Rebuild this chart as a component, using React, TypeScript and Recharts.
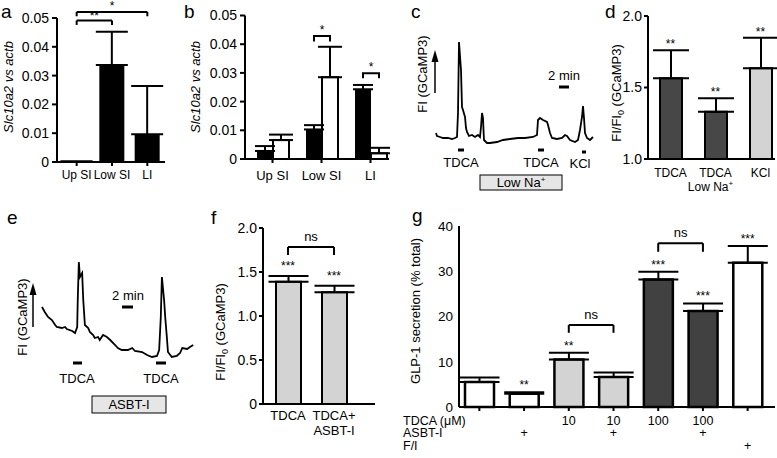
import React from 'react';
import {
  BarChart, Bar, Cell, XAxis, YAxis, ErrorBar, ReferenceLine, ReferenceDot, LineChart, Line,
} from 'recharts';

const FONT = '"Liberation Sans", Arial, Helvetica, sans-serif';

// a: Slc10a2 along the gut
const aRegions = ['Up SI', 'Low SI', 'LI'];
const aMean = [0.0002, 0.0337, 0.0096];
const aTop = [0.0002, 0.0452, 0.0264];
const aTicks = [0, 0.01, 0.02, 0.03, 0.04, 0.05];

// b: black vs white groups
const bRegions = ['Up SI', 'Low SI', 'LI'];
const bBlack = [0.0028, 0.0103, 0.0243];
const bBlackTop = [0.0045, 0.0118, 0.0258];
const bWhite = [0.0066, 0.0285, 0.002];
const bWhiteTop = [0.0085, 0.0391, 0.0039];
const bSig = ['', '*', '*'];
const bBracket = [0, 0.0429, 0.0299];
const bBracketTip = [0, 0.0409, 0.0281];

// c: GCaMP3 trace (minutes, a.u.)
const cTime = [0, 0.2, 0.8, 1.4, 2.4, 3.2, 3.8, 4.2, 4.4, 4.6, 5.0, 5.2, 5.4, 5.8, 6.0, 6.2, 6.6, 7.2, 7.8, 8.4, 8.8,
  9.0, 9.2, 9.4, 9.5, 9.6, 10.2, 10.8, 12.2, 13.4, 14.8, 16.4, 17.8, 19.4, 20.2, 20.4, 20.8, 21.4, 22.2, 22.4, 22.8,
  23.2, 24.2, 25.2, 25.8, 26.2, 26.8, 27.8, 28.4, 28.8, 29.2, 29.4, 29.6, 29.8, 30.2, 30.8, 31.4];
const cSignal = [17, 14, 13, 12, 12, 11, 12, 13, 37, 108, 80, 43, 40, 33, 22, 18, 14, 15, 13, 15, 13,
  23, 37, 32, 20, 10, 7, 7, 8, 10, 11, 12, 12, 13, 15, 30, 32, 30, 28, 25, 17,
  12, 11, 12, 15, 14, 10, 8, 10, 20, 33, 44, 32, 17, 12, 10, 13];

// d
const dConditions = ['TDCA', 'TDCA low Na', 'KCl'];
const dLines = [['TDCA'], ['TDCA', 'Low Na+'], ['KCl']];
const dMean = [1.564, 1.33, 1.634];
const dTop = [1.76, 1.424, 1.848];
const dSig = ['**', '**', '**'];
const dFill = ['#474747', '#474747', '#d3d3d3'];
const dTicks = [1, 1.5, 2];

// e: GCaMP3 trace with ASBT-I
const eTime = [0, 0.5, 1.1, 1.8, 2.4, 2.7, 3.6, 4.2, 4.5, 5.5, 6.0, 6.4, 6.5, 6.7, 6.9, 7.3, 7.5, 7.8, 8.4, 8.7,
  9.3, 9.6, 10.2, 10.5, 11.1, 11.8, 12.4, 13.3, 13.8, 14.5, 15.6, 16.4, 16.9, 18.2, 19.1, 20.0, 20.9, 21.3, 21.6,
  21.8, 22.2, 22.4, 22.7, 22.9, 23.6, 24.5, 25.1, 25.5, 26.4, 26.9, 27.5];
const eSignal = [63, 58, 53, 50, 45, 43, 42, 43, 41, 39, 37, 43, 70, 108, 93, 97, 70, 45, 42, 38,
  35, 32, 33, 30, 35, 33, 30, 25, 22, 20, 20, 22, 19, 18, 15, 13, 14, 20, 53,
  93, 70, 53, 33, 18, 13, 14, 17, 22, 21, 23, 25];

// f
const fConditions = ['TDCA', 'TDCA+ASBT-I'];
const fLines = [['TDCA'], ['TDCA+', 'ASBT-I']];
const fMean = [1.39, 1.27];
const fTop = [1.455, 1.345];
const fSig = ['***', '***'];
const fTicks = [0, 0.5, 1, 1.5, 2];

// g: GLP-1 secretion
const gGroups = ['g1', 'g2', 'g3', 'g4', 'g5', 'g6', 'g7'];
const gMean = [5.5, 2.95, 10.5, 6.65, 28.2, 21.2, 31.9];
const gTop = [6.5, 3.25, 12.0, 7.6, 29.9, 22.9, 35.6];
const gSig = ['', '**', '**', '', '***', '***', '***'];
const gTdca = ['', '', '10', '10', '100', '100', ''];
const gAsbt = ['', '+', '', '+', '', '+', ''];
const gFi = ['', '', '', '', '', '', '+'];
const gFill = ['#ffffff', '#ffffff', '#d3d3d3', '#d3d3d3', '#414141', '#414141', '#ffffff'];
const gTicks = [0, 10, 20, 30, 40];

const aData = aRegions.map((r, i) => ({ region: r, mean: aMean[i], err: [0, aTop[i] - aMean[i]] }));
const bData = bRegions.map((r, i) => ({
  region: r, black: bBlack[i], white: bWhite[i],
  blackErr: [0, bBlackTop[i] - bBlack[i]], whiteErr: [0, bWhiteTop[i] - bWhite[i]],
}));
const cData = cTime.map((t, i) => ({ t, f: cSignal[i] }));
const dData = dConditions.map((c, i) => ({ cond: c, mean: dMean[i], err: [0, dTop[i] - dMean[i]] }));
const eData = eTime.map((t, i) => ({ t, f: eSignal[i] }));
const fData = fConditions.map((c, i) => ({ cond: c, mean: fMean[i], err: [0, fTop[i] - fMean[i]] }));
const gData = gGroups.map((g, i) => ({ group: g, mean: gMean[i], err: [0, gTop[i] - gMean[i]] }));

const axisLine = { stroke: '#000', strokeWidth: 2 };
const tickLine = { stroke: '#000', strokeWidth: 2 };
const numTick = { fill: '#000', fontSize: 14 };

const fmt2 = (v: number) => (v === 0 ? '0' : v.toFixed(2));
const fmt1 = (v: number) => (v === 0 ? '0' : v.toFixed(1));

function plusText(s: string) {
  if (!s.endsWith('+') || s.length === 1) return s;
  return [s.slice(0, -1), <tspan key="p" dy={-5} fontSize={8}>+</tspan>];
}

function bracket(from: string, to: string, y: number, tip: number, text: string, fontSize: number, offset: number) {
  const common = { stroke: '#000', strokeWidth: 2, ifOverflow: 'visible' as const };
  return [
    <ReferenceLine key={`${from}-${to}-h`} segment={[{ x: from, y }, { x: to, y }]} {...common}
      label={{ value: text, position: 'top', offset, fontSize, fill: '#000' }} />,
    <ReferenceLine key={`${from}-${to}-l`} segment={[{ x: from, y }, { x: from, y: tip }]} {...common} />,
    <ReferenceLine key={`${from}-${to}-r`} segment={[{ x: to, y }, { x: to, y: tip }]} {...common} />,
  ];
}

function stars(cats: string[], tops: number[], sig: string[], offset: number) {
  return cats.map((c, i) => (sig[i] ? (
    <ReferenceDot key={`s-${c}`} x={c} y={tops[i]} r={0} fill="none" stroke="none" ifOverflow="visible"
      label={{ value: sig[i], position: 'top', offset, fontSize: 12, fill: '#000' }} />
  ) : null));
}

// white bars in b also carry the black-vs-white bracket
function bWhiteShape(props: any) {
  const { x, y, width, height, index } = props;
  const base = y + height;
  const py = (u: number) => base - (u * height) / bWhite[index];
  const l = x - width / 2;
  const r = x + width / 2;
  return (
    <g>
      <rect x={x} y={y} width={width} height={height} fill="#fff" stroke="#000" strokeWidth={2} />
      {bSig[index] && (
        <>
          <path d={`M${l},${py(bBracketTip[index])}V${py(bBracket[index])}H${r}V${py(bBracketTip[index])}`}
            fill="none" stroke="#000" strokeWidth={2} />
          <text x={(l + r) / 2} y={py(bBracket[index]) - 2} textAnchor="middle" fontSize={12}>{bSig[index]}</text>
        </>
      )}
    </g>
  );
}

const dTick = (p: any) => (
  <g>
    {dLines[p.index].map((s, k) => (
      <text key={k} x={p.x + (k ? -5 : 0)} y={p.y + 18 + k * 14} textAnchor="middle" fontSize={12} fill="#000">{plusText(s)}</text>
    ))}
  </g>
);

const fTick = (p: any) => (
  <g>
    {fLines[p.index].map((s, k) => (
      <text key={k} x={p.x} y={p.y + 16 + k * 15} textAnchor="middle" fontSize={13} fill="#000">{s}</text>
    ))}
  </g>
);

const gTick = (p: any) => (
  <g fontSize={12.5} fill="#000">
    {[gTdca, gAsbt, gFi].map((row, k) => (
      <text key={k} x={p.x} y={p.y + 13.5 + k * 12.5} textAnchor="middle">{row[p.index]}</text>
    ))}
  </g>
);

const box = (left: number, top: number) => ({ position: 'absolute' as const, left, top });

function Overlay() {
  const t = { fontSize: 13, fill: '#000' };
  return (
    <svg width={777} height={458} style={{ position: 'absolute', left: 0, top: 0, pointerEvents: 'none' }}>
      <g fontSize={19} fill="#000">
        <text x={1} y={17.5}>a</text>
        <text x={184} y={18}>b</text>
        <text x={411} y={17.5}>c</text>
        <text x={605} y={18}>d</text>
        <text x={7} y={224}>e</text>
        <text x={211} y={224}>f</text>
        <text x={412} y={222}>g</text>
      </g>
      {/* axis titles */}
      <text {...t} x={13} y={87} textAnchor="middle" fontStyle="italic" transform="rotate(-90 13 87)">Slc10a2 vs actb</text>
      <text {...t} x={200} y={87} textAnchor="middle" fontStyle="italic" transform="rotate(-90 200 87)">Slc10a2 vs actb</text>
      <text {...t} x={427} y={74} textAnchor="middle" transform="rotate(-90 427 74)">FI (GCaMP3)</text>
      <text {...t} x={621} y={93} textAnchor="middle" transform="rotate(-90 621 93)">
        FI/FI<tspan dy={3} fontSize={9}>0</tspan><tspan dy={-3}> (GCaMP3)</tspan>
      </text>
      <text {...t} x={27} y={317} textAnchor="middle" transform="rotate(-90 27 317)">FI (GCaMP3)</text>
      <text {...t} x={225} y={332} textAnchor="middle" transform="rotate(-90 225 332)">
        FI/FI<tspan dy={3} fontSize={9}>0</tspan><tspan dy={-3}> (GCaMP3)</tspan>
      </text>
      <text {...t} x={420} y={311} textAnchor="middle" transform="rotate(-90 420 311)">GLP-1 secretion (% total)</text>

      {/* c annotations */}
      <line x1={435} y1={93} x2={435} y2={60} stroke="#000" strokeWidth={1.5} />
      <polygon points="435,50 431.5,62 438.5,62" fill="#000" />
      <text {...t} x={564} y={80} textAnchor="middle">2 min</text>
      <line x1={559} y1={87} x2={569} y2={87} stroke="#000" strokeWidth={3} />
      <line x1={458} y1={150} x2={464} y2={150} stroke="#000" strokeWidth={3} />
      <line x1={538} y1={150} x2={544} y2={150} stroke="#000" strokeWidth={3} />
      <line x1={582} y1={152} x2={586} y2={152} stroke="#000" strokeWidth={3} />
      <text {...t} x={461} y={167} textAnchor="middle">TDCA</text>
      <text {...t} x={541} y={167} textAnchor="middle">TDCA</text>
      <text {...t} x={580} y={168} textAnchor="middle">KCl</text>
      <rect x={480} y={175} width={82} height={15} fill="#e6e6e6" stroke="#000" strokeWidth={1} />
      <text {...t} x={521} y={187} textAnchor="middle">Low Na<tspan dy={-5} fontSize={8}>+</tspan></text>

      {/* e annotations */}
      <line x1={33} y1={327} x2={33} y2={293} stroke="#000" strokeWidth={1.5} />
      <polygon points="33,283 29.5,295 36.5,295" fill="#000" />
      <text {...t} x={128} y={300} textAnchor="middle">2 min</text>
      <line x1={122} y1={307} x2={133} y2={307} stroke="#000" strokeWidth={3} />
      <line x1={73} y1={363} x2={82} y2={363} stroke="#000" strokeWidth={3} />
      <line x1={156} y1={363} x2={166} y2={363} stroke="#000" strokeWidth={3} />
      <text {...t} x={77} y={383} textAnchor="middle">TDCA</text>
      <text {...t} x={161} y={383} textAnchor="middle">TDCA</text>
      <rect x={92} y={396} width={74} height={17} fill="#e6e6e6" stroke="#000" strokeWidth={1} />
      <text {...t} x={129} y={409} textAnchor="middle">ASBT-I</text>

      {/* g row labels */}
      <g fontSize={12.5} fill="#000">
        <text x={403} y={424.5}>TDCA (μM)</text>
        <text x={403} y={437}>ASBT-I</text>
        <text x={403} y={449.5}>F/I</text>
      </g>
    </svg>
  );
}

export default function App() {
  return (
    <div style={{ position: 'absolute', left: 0, top: 0, width: 777, height: 458, background: '#fff', fontFamily: FONT, overflow: 'hidden' }}>
      {/* a */}
      <div style={box(0, 0)}>
        <BarChart width={175} height={190} data={aData} margin={{ top: 18, right: 10, left: 0, bottom: 0 }}>
          <XAxis dataKey="region" axisLine={axisLine} tickLine={tickLine} tick={{ fill: '#000', fontSize: 12 }}
            tickSize={4} tickMargin={4} height={28} padding={{ left: 2, right: 0 }} interval={0} />
          <YAxis domain={[0, 0.05]} ticks={aTicks} tickFormatter={fmt2} axisLine={axisLine} tickLine={tickLine}
            tick={numTick} tickSize={5} tickMargin={3} width={57} interval={0} />
          <Bar dataKey="mean" fill="#000" barSize={25} isAnimationActive={false}>
            <ErrorBar dataKey="err" width={16} stroke="#000" strokeWidth={2} direction="y" />
          </Bar>
          {bracket('Up SI', 'Low SI', 0.0491, 0.0476, '**', 12, 1)}
          {bracket('Up SI', 'LI', 0.0521, 0.0506, '*', 12, 2)}
        </BarChart>
      </div>

      {/* b */}
      <div style={box(190, 0)}>
        <BarChart width={200} height={190} data={bData} barGap={0} margin={{ top: 15.5, right: 1, left: 0, bottom: 0 }}>
          <XAxis dataKey="region" axisLine={axisLine} tickLine={tickLine} tick={{ fill: '#000', fontSize: 13 }}
            tickSize={4} tickMargin={8} height={31} padding={{ left: 3, right: -6 }} interval={0} />
          <YAxis domain={[0, 0.05]} ticks={aTicks} tickFormatter={fmt2} axisLine={axisLine} tickLine={tickLine}
            tick={numTick} tickSize={5} tickMargin={3} width={55} interval={0} />
          <Bar dataKey="black" fill="#000" barSize={16} isAnimationActive={false}>
            <ErrorBar dataKey="blackErr" width={10} stroke="#000" strokeWidth={2} direction="y" />
          </Bar>
          <Bar dataKey="white" fill="#fff" barSize={16} shape={bWhiteShape} isAnimationActive={false}>
            <ErrorBar dataKey="whiteErr" width={12} stroke="#000" strokeWidth={2} direction="y" />
          </Bar>
        </BarChart>
      </div>

      {/* c */}
      <div style={box(430, 0)}>
        <LineChart width={170} height={200} data={cData} margin={{ top: 0, right: 0, left: 0, bottom: 0 }}>
          <XAxis type="number" dataKey="t" domain={[-1.2, 32.8]} hide allowDataOverflow />
          <YAxis type="number" domain={[-50, 150]} hide allowDataOverflow />
          <Line type="linear" dataKey="f" stroke="#000" strokeWidth={1.8} dot={false} isAnimationActive={false} />
        </LineChart>
      </div>

      {/* d */}
      <div style={box(570, 0)}>
        <BarChart width={207} height={200} data={dData} margin={{ top: 16, right: 2, left: 0, bottom: 0 }}>
          <XAxis dataKey="cond" axisLine={axisLine} tickLine={false} tick={dTick} tickSize={0} tickMargin={0}
            height={41} padding={{ left: 0, right: -8 }} interval={0} />
          <YAxis domain={[1, 2]} ticks={dTicks} tickFormatter={fmt1} axisLine={axisLine} tickLine={tickLine}
            tick={numTick} tickSize={4} tickMargin={2} width={78} interval={0} />
          <Bar dataKey="mean" barSize={22} stroke="#000" strokeWidth={2} isAnimationActive={false}>
            {dData.map((_, i) => <Cell key={i} fill={dFill[i]} />)}
            <ErrorBar dataKey="err" width={18} stroke="#000" strokeWidth={2} direction="y" />
          </Bar>
          {stars(dConditions, dTop, dSig, 2)}
        </BarChart>
      </div>

      {/* e */}
      <div style={box(35, 240)}>
        <LineChart width={165} height={130} data={eData} margin={{ top: 0, right: 0, left: 0, bottom: 0 }}>
          <XAxis type="number" dataKey="t" domain={[-1.273, 28.727]} hide allowDataOverflow />
          <YAxis type="number" domain={[0, 130]} hide allowDataOverflow />
          <Line type="linear" dataKey="f" stroke="#000" strokeWidth={1.8} dot={false} isAnimationActive={false} />
        </LineChart>
      </div>

      {/* f */}
      <div style={box(190, 200)}>
        <BarChart width={190} height={258} data={fData} margin={{ top: 28, right: 5, left: 0, bottom: 0 }}>
          <XAxis dataKey="cond" axisLine={axisLine} tickLine={false} tick={fTick} tickSize={0} tickMargin={0}
            height={54} padding={{ left: 2, right: 18 }} interval={0} />
          <YAxis domain={[0, 2]} ticks={fTicks} tickFormatter={fmt1} axisLine={axisLine} tickLine={tickLine}
            tick={numTick} tickSize={4} tickMargin={2} width={73} interval={0} />
          <Bar dataKey="mean" barSize={25} fill="#d3d3d3" stroke="#000" strokeWidth={2} isAnimationActive={false}>
            <ErrorBar dataKey="err" width={20} stroke="#000" strokeWidth={2} direction="y" />
          </Bar>
          {stars(fConditions, fTop, fSig, 6)}
          {bracket('TDCA', 'TDCA+ASBT-I', 1.784, 1.693, 'ns', 13, 6)}
        </BarChart>
      </div>

      {/* g */}
      <div style={box(380, 200)}>
        <BarChart width={397} height={258} data={gData} margin={{ top: 26, right: 2, left: 0, bottom: 0 }}>
          <XAxis dataKey="group" axisLine={axisLine} tickLine={tickLine} tick={gTick} tickSize={4} tickMargin={0}
            height={51} padding={{ left: -2, right: 5 }} interval={0} />
          <YAxis type="number" domain={[0, 40]} ticks={gTicks} axisLine={axisLine} tickLine={tickLine}
            tick={false} tickSize={4} width={79} />
          {/* y tick numbers, placed through the y scale */}
          {gTicks.map((v) => (
            <ReferenceLine key={`yt-${v}`} y={v} stroke="none" ifOverflow="visible"
              label={{ value: String(v), position: 'left', offset: 6, fontSize: 13.5, fill: '#000' }} />
          ))}
          <Bar dataKey="mean" barSize={29} stroke="#000" strokeWidth={2.5} isAnimationActive={false}>
            {gData.map((_, i) => <Cell key={i} fill={gFill[i]} />)}
            <ErrorBar dataKey="err" width={20} stroke="#000" strokeWidth={2} direction="y" />
          </Bar>
          {stars(gGroups, gTop, gSig, 3)}
          {bracket('g3', 'g4', 18.1, 16.4, 'ns', 13, 6)}
          {bracket('g5', 'g6', 36.2, 34.3, 'ns', 13, 6)}
        </BarChart>
      </div>

      <Overlay />
    </div>
  );
}
